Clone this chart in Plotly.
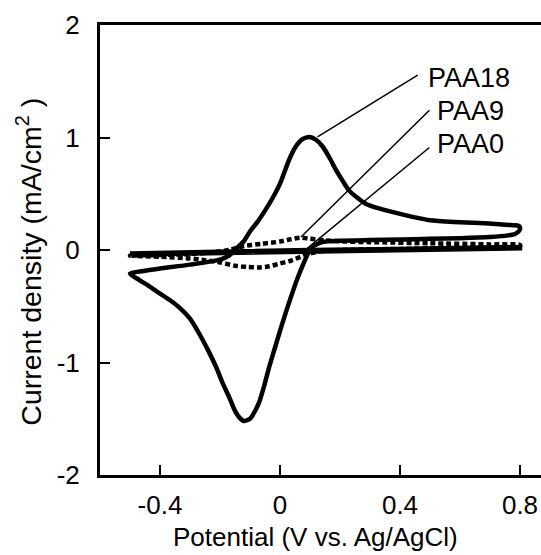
import plotly.graph_objects as go

# PAA18 cyclic voltammogram (potential V, current density mA/cm2)
paa18_E = [-0.50, -0.45, -0.40, -0.30, -0.20, -0.17, -0.15, -0.12, -0.10, -0.075, -0.05, -0.025,
           0.00, 0.03, 0.05, 0.075, 0.098, 0.12, 0.142, 0.165, 0.187, 0.21, 0.23, 0.26, 0.287,
           0.33, 0.387, 0.45, 0.50, 0.58, 0.665, 0.73, 0.775, 0.795, 0.80, 0.797, 0.785, 0.76,
           0.70, 0.60, 0.50, 0.40, 0.30, 0.20, 0.16, 0.135, 0.115, 0.10, 0.09, 0.08, 0.06,
           0.04, 0.02, 0.00, -0.018, -0.036, -0.052, -0.069, -0.085, -0.10, -0.12, -0.135,
           -0.15, -0.169, -0.19, -0.213, -0.24, -0.27, -0.30, -0.336, -0.37, -0.41, -0.44,
           -0.47, -0.50]
paa18_I = [-0.21, -0.185, -0.165, -0.13, -0.085, -0.05, 0.0, 0.08, 0.165, 0.25, 0.35, 0.46,
           0.59, 0.80, 0.91, 0.985, 1.005, 0.98, 0.92, 0.82, 0.71, 0.61, 0.53, 0.46, 0.41,
           0.37, 0.33, 0.29, 0.265, 0.25, 0.24, 0.23, 0.22, 0.215, 0.20, 0.17, 0.145, 0.13,
           0.115, 0.105, 0.10, 0.093, 0.088, 0.082, 0.077, 0.066, 0.04, 0.0, -0.05, -0.11, -0.24,
           -0.39, -0.55, -0.72, -0.88, -1.04, -1.20, -1.35, -1.44, -1.50, -1.52, -1.49,
           -1.43, -1.31, -1.19, -1.04, -0.89, -0.74, -0.61, -0.51, -0.44, -0.37, -0.315,
           -0.265, -0.21]

# PAA9 cyclic voltammogram
paa9_E = [-0.50, -0.40, -0.30, -0.22, -0.17, -0.12, -0.06, 0.00, 0.035, 0.065, 0.10, 0.15,
          0.22, 0.30, 0.50, 0.70, 0.80, 0.80, 0.60, 0.40, 0.20, 0.14, 0.10, 0.06, 0.03, 0.00,
          -0.035, -0.07, -0.11, -0.15, -0.20, -0.25, -0.30, -0.40, -0.50]
paa9_I = [-0.05, -0.045, -0.035, -0.02, 0.0, 0.035, 0.055, 0.075, 0.095, 0.11, 0.10, 0.086,
          0.075, 0.07, 0.06, 0.05, 0.045, 0.03, 0.02, 0.01, 0.0, -0.01, -0.03, -0.07, -0.10,
          -0.12, -0.145, -0.155, -0.15, -0.14, -0.11, -0.09, -0.075, -0.06, -0.05]

# PAA0 cyclic voltammogram
paa0_E = [-0.50, -0.20, 0.10, 0.40, 0.80, 0.80, 0.40, 0.10, -0.20, -0.50]
paa0_I = [-0.03, -0.012, 0.0, 0.01, 0.027, 0.015, 0.0, -0.01, -0.02, -0.04]

x_ticks = [-0.4, 0, 0.4, 0.8]
x_tick_text = ["-0.4", "0", "0.4", "0.8"]
y_ticks = [-2, -1, 0, 1, 2]
y_tick_text = ["-2", "-1", "0", "1", "2"]

labels = ["PAA18", "PAA9", "PAA0"]
label_pos = [(0.488, 1.532), (0.515, 1.234), (0.515, 0.94)]
leader_from = [(0.459, 1.554), (0.498, 1.243), (0.498, 0.911)]
leader_to = [(0.125, 1.005), (0.07, 0.116), (0.091, 0.015)]

x_title = "Potential (V vs. Ag/AgCl)"
y_title = "Current density (mA/cm<sup>2</sup> )"

FONT = "Liberation Sans, Arial, sans-serif"

fig = go.Figure()
fig.add_trace(go.Scatter(x=paa18_E, y=paa18_I, mode="lines",
                         line=dict(color="black", width=4.5, shape="spline", smoothing=0.6),
                         showlegend=False, hoverinfo="skip"))
fig.add_trace(go.Scatter(x=paa0_E, y=paa0_I, mode="lines",
                         line=dict(color="black", width=4.5),
                         showlegend=False, hoverinfo="skip"))
fig.add_trace(go.Scatter(x=paa9_E, y=paa9_I, mode="lines",
                         line=dict(color="black", width=4.5, dash="5px,3px", shape="spline", smoothing=0.6),
                         showlegend=False, hoverinfo="skip"))

for (x0, y0), (x1, y1) in zip(leader_from, leader_to):
    fig.add_shape(type="line", x0=x0, y0=y0, x1=x1, y1=y1, xref="x", yref="y",
                  line=dict(color="black", width=1.5))

for txt, (lx, ly) in zip(labels, label_pos):
    fig.add_annotation(x=lx, y=ly, xref="x", yref="y", text=txt, showarrow=False,
                       xanchor="left", yanchor="middle",
                       font=dict(family=FONT, size=27, color="black"))

# axis titles
fig.add_annotation(x=0.489, y=-0.137, xref="paper", yref="paper", text=x_title,
                   showarrow=False, xanchor="center", yanchor="middle",
                   font=dict(family=FONT, size=26, color="black"))
fig.add_annotation(x=-0.161, y=0.474, xref="paper", yref="paper", text=y_title,
                   showarrow=False, xanchor="center", yanchor="middle", textangle=-90,
                   font=dict(family=FONT, size=28.5, color="black"))

fig.update_xaxes(range=[-0.6, 0.87], showline=True, linecolor="black", linewidth=3,
                 mirror=True, ticks="inside", ticklen=10, tickwidth=2, tickcolor="black",
                 tickvals=x_ticks, ticktext=x_tick_text, showgrid=False, zeroline=False,
                 ticklabelstandoff=5,
                 tickfont=dict(family=FONT, size=26, color="black"))
fig.update_yaxes(range=[-2, 2], showline=True, linecolor="black", linewidth=3,
                 mirror=False, ticks="inside", ticklen=10, tickwidth=2, tickcolor="black",
                 tickvals=y_ticks, ticktext=y_tick_text, showgrid=False, zeroline=False,
                 ticklabelstandoff=12,
                 tickfont=dict(family=FONT, size=26, color="black"))

fig.update_layout(width=541, height=555, margin=dict(l=100, r=0, t=25, b=80),
                  plot_bgcolor="white", paper_bgcolor="white")

fig.write_html("out.html")
